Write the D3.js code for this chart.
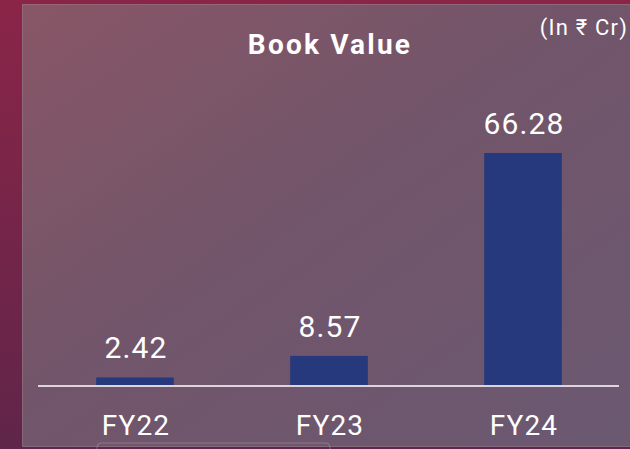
<!DOCTYPE html>
<html>
<head>
<meta charset="utf-8">
<script src="https://cdn.jsdelivr.net/npm/d3@7"></script>
<style>
  html, body { margin: 0; padding: 0; background: #6e2448; }
  svg { display: block; }
</style>
</head>
<body>
<svg id="chart"></svg>
<script>
const categories = ['FY22', 'FY23', 'FY24'];
const bookValues = [2.42, 8.57, 66.28];
const valueLabels = ['2.42', '8.57', '66.28'];
const chartTitle = 'Book Value';
const unitNote = '(In ₹ Cr)';

function drawChart() {
    const width = 630;
    const height = 449;
    const svg = d3.select('#chart').attr('width', width).attr('height', height);

    const defs = svg.append('defs');
    const outer = defs.append('linearGradient').attr('id', 'outerBg')
        .attr('x1', 0).attr('y1', 0).attr('x2', 0).attr('y2', 1);
    outer.append('stop').attr('offset', '0%').attr('stop-color', '#8b2548');
    outer.append('stop').attr('offset', '100%').attr('stop-color', '#60254a');

    const panel = defs.append('linearGradient').attr('id', 'panelBg')
        .attr('x1', 0).attr('y1', 0).attr('x2', 1).attr('y2', 1);
    panel.append('stop').attr('offset', '0%').attr('stop-color', '#885666');
    panel.append('stop').attr('offset', '45%').attr('stop-color', '#72556a');
    panel.append('stop').attr('offset', '100%').attr('stop-color', '#6a5972');

    svg.append('rect').attr('width', width).attr('height', height).attr('fill', 'url(#outerBg)');
    svg.append('rect')
        .attr('x', 22.5).attr('y', 4.5)
        .attr('width', width).attr('height', 442)
        .attr('fill', 'url(#panelBg)')
        .attr('stroke', '#9a8590').attr('stroke-opacity', 0.6).attr('stroke-width', 1);

    // faint decoration at bottom
    svg.append('rect')
        .attr('x', 97).attr('y', 443).attr('width', 233).attr('height', 20).attr('rx', 4)
        .attr('fill', 'none').attr('stroke', '#b09aa8').attr('stroke-opacity', 0.5);

    const baseY = 386;
    const x = d3.scaleBand()
        .domain(categories)
        .range([38, 620])
        .paddingInner(0.6)
        .paddingOuter(0.3);

    const y = d3.scaleLinear()
        .domain([0, 66.28])
        .range([baseY, 153]);

    svg.append('text')
        .attr('x', 330).attr('y', 54)
        .attr('text-anchor', 'middle')
        .attr('font-family', 'Roboto, sans-serif')
        .attr('font-weight', 'bold')
        .attr('font-size', 28)
        .attr('letter-spacing', 2.2)
        .attr('fill', '#ffffff')
        .text(chartTitle);

    svg.append('text')
        .attr('x', 628).attr('y', 35)
        .attr('text-anchor', 'end')
        .attr('font-family', 'Roboto, sans-serif')
        .attr('font-size', 22)
        .attr('letter-spacing', 1.2)
        .attr('fill', '#ffffff')
        .text(unitNote);

    svg.selectAll('.bar')
        .data(bookValues)
        .enter().append('rect')
        .attr('class', 'bar')
        .attr('x', (d, i) => x(categories[i]))
        .attr('y', d => y(d))
        .attr('width', x.bandwidth())
        .attr('height', d => baseY - y(d))
        .attr('fill', '#25397c');

    svg.selectAll('.val')
        .data(bookValues)
        .enter().append('text')
        .attr('class', 'val')
        .attr('x', (d, i) => x(categories[i]) + x.bandwidth() / 2 + 1)
        .attr('y', d => y(d) - 19)
        .attr('text-anchor', 'middle')
        .attr('font-family', 'Roboto, sans-serif')
        .attr('font-size', 30)
        .attr('letter-spacing', 1.1)
        .attr('fill', '#ffffff')
        .text((d, i) => valueLabels[i]);

    const axis = svg.append('g')
        .attr('transform', `translate(0,${baseY})`)
        .call(d3.axisBottom(x).tickSize(0).tickPadding(29));
    axis.select('.domain')
        .attr('d', 'M38,0H619')
        .attr('stroke', '#ddd4dc')
        .attr('stroke-width', 2);
    axis.selectAll('text')
        .attr('font-family', 'Roboto, sans-serif')
        .attr('font-size', 28)
        .attr('letter-spacing', 1.2)
        .attr('dx', 1)
        .attr('fill', '#ffffff');
}

drawChart();
</script>
</body>
</html>
